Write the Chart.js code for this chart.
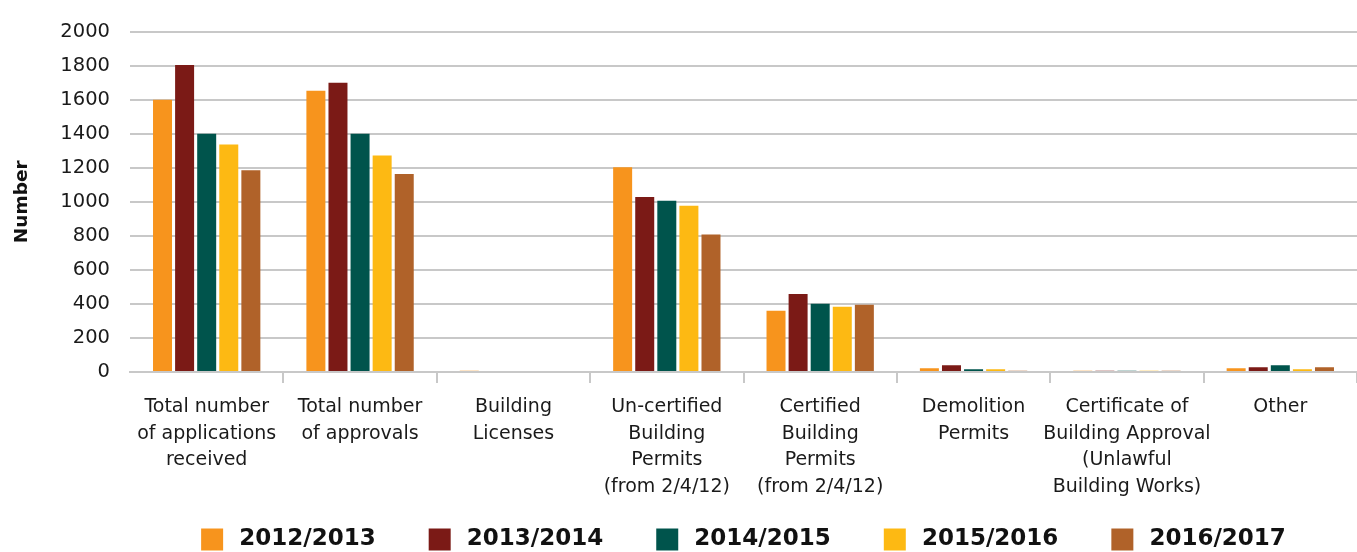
<!DOCTYPE html>
<html lang="en">
<head>
<meta charset="UTF-8">
<title>Building applications</title>
<script src="https://cdn.jsdelivr.net/npm/chart.js"></script>
<style>
  html, body { margin: 0; padding: 0; background: #fff; }
  #wrap { width: 1357px; height: 552px; position: relative; }
</style>
</head>
<body>
<div id="wrap"><canvas id="chart"></canvas></div>
<script>
// categories (multi-line labels)
const categories = [
    ['Total number', 'of applications', 'received'],
    ['Total number', 'of approvals'],
    ['Building', 'Licenses'],
    ['Un-certified', 'Building', 'Permits', '(from 2/4/12)'],
    ['Certified', 'Building', 'Permits', '(from 2/4/12)'],
    ['Demolition', 'Permits'],
    ['Certificate of', 'Building Approval', '(Unlawful', 'Building Works)'],
    ['Other']
];

const years = ['2012/2013', '2013/2014', '2014/2015', '2015/2016', '2016/2017'];

const y2012 = [1600, 1653, 8, 1203, 360, 22, 8, 22];
const y2013 = [1805, 1700, 0, 1029, 459, 39, 8, 28];
const y2014 = [1400, 1400, 0, 1006, 401, 16, 8, 39];
const y2015 = [1337, 1273, 0, 977, 384, 16, 8, 16];
const y2016 = [1186, 1163, 0, 808, 395, 8, 8, 28];

const yTicks = [0, 200, 400, 600, 800, 1000, 1200, 1400, 1600, 1800, 2000];

const colors = ['#F7941D', '#7B1A16', '#00544C', '#FDB913', '#B06229'];
const series = [y2012, y2013, y2014, y2015, y2016];

const ctx = document.getElementById('chart');
const gridColor = '#c8c8c8';

new Chart(ctx, {
    type: 'bar',
    data: {
        labels: categories,
        datasets: series.map((d, i) => ({
            label: years[i],
            data: d,
            backgroundColor: colors[i],
            borderWidth: 0,
            categoryPercentage: 0.72,
            barPercentage: 0.86
        }))
    },
    options: {
        responsive: true,
        maintainAspectRatio: false,
        animation: false,
        layout: { padding: { top: 11, right: 0, left: 0, bottom: -9 } },
        plugins: {
            tooltip: { enabled: false },
            legend: {
                position: 'bottom',
                fullSize: false,
                labels: {
                    boxWidth: 22,
                    boxHeight: 22,
                    padding: 13,
                    color: '#111',
                    font: { family: 'DejaVu Sans', size: 23, weight: 'bold' },
                    // a thin gap after the box and some room between items
                    generateLabels: (chart) =>
                        Chart.defaults.plugins.legend.labels.generateLabels(chart)
                            .map((l, i, all) => ({
                                ...l,
                                text: '\u2009' + l.text + (i < all.length - 1 ? '     ' : '')
                            }))
                }
            }
        },
        scales: {
            x: {
                afterFit: (scale) => { scale.height = 143; },
                grid: {
                    offset: true,
                    drawOnChartArea: false,
                    drawTicks: true,
                    tickLength: 11,
                    lineWidth: 2,
                    color: (c) => (c.index === 0 ? 'rgba(0,0,0,0)' : gridColor)
                },
                border: { display: true, color: gridColor, width: 2 },
                ticks: {
                    color: '#1a1a1a',
                    maxRotation: 0,
                    autoSkip: false,
                    padding: 11,
                    font: { family: 'DejaVu Sans', size: 19, lineHeight: 1.4 }
                }
            },
            y: {
                min: 0,
                max: 2000,
                afterBuildTicks: (scale) => { scale.ticks = yTicks.map(v => ({ value: v })); },
                afterFit: (scale) => { scale.width = 130; },
                grid: { color: gridColor, lineWidth: 2, drawTicks: false },
                border: { display: false },
                ticks: {
                    color: '#1a1a1a',
                    padding: 20,
                    callback: (v) => String(v),
                    font: { family: 'DejaVu Sans', size: 19.5 }
                },
                title: {
                    display: true,
                    text: 'Number',
                    color: '#111',
                    padding: { top: 11, bottom: 0 },
                    font: { family: 'DejaVu Sans', size: 18.5, weight: 'bold' }
                }
            }
        }
    }
});
</script>
</body>
</html>
